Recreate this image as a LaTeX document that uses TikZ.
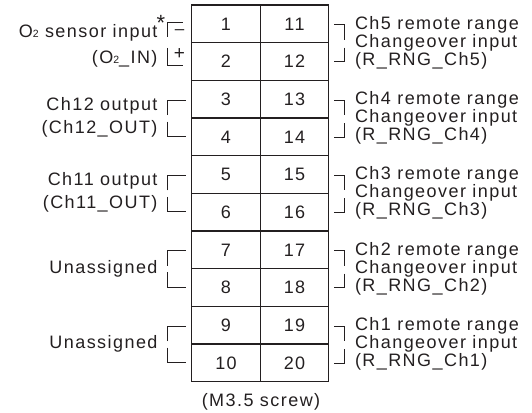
\documentclass[tikz,border=0pt]{standalone}
\usepackage{fontspec}
\setmainfont{Liberation Sans}[LetterSpace=8]
\definecolor{ink}{HTML}{231F20}
\begin{document}
\begin{tikzpicture}[x=1pt,y=-1pt,
  lbl/.style={font=\fontsize{18}{19}\selectfont, text=ink, inner sep=0pt, outer sep=0pt},
  cell/.style={draw=ink, line width=1.1pt, minimum width=68.5pt, minimum height=37.67pt,
    inner sep=0pt, outer sep=0pt, font=\fontsize{18}{19}\selectfont, text=ink},
  brk/.style={draw=ink, line width=1pt}]
\useasboundingbox (0,0) rectangle (532,412);
% terminal cells
\foreach \i in {1,...,10}{
  \pgfmathtruncatemacro{\j}{\i+10}
  \node[cell] (t\i) at (226, {5+37.67*(\i-0.5)}) {\i};
  \node[cell] (t\j) at (294.5, {5+37.67*(\i-0.5)}) {\j};
}
% right brackets
\foreach \k in {0,...,4}{
  \pgfmathsetmacro{\c}{5+37.67*(2*\k+1)}
  \draw[brk] (334,\c-18) -- (344,\c-18) -- (344,\c-3);
  \draw[brk] (344,\c+5) -- (344,\c+19) -- (334,\c+19);
}
% left brackets
\draw[brk] (167,37) -- (167,23) -- (183,23);
\draw[brk] (167,48) -- (167,65) -- (183,65);
\foreach \k in {1,...,4}{
  \pgfmathsetmacro{\c}{5+37.67*(2*\k+1)}
  \draw[brk] (167,\c-3) -- (167,\c-18) -- (186,\c-18);
  \draw[brk] (167,\c+3.5) -- (167,\c+18.5) -- (186,\c+18.5);
}
\node[lbl, font=\fontsize{17}{17}\selectfont] (minus) at (179.5,32) {–};
\node[lbl, font=\fontsize{19}{19}\selectfont] (plus) at (179.5,54.5) {+};
% left labels
\node[lbl, anchor=base east] (o2a) at (157.5,37.5) {O{\fontsize{10.5}{10}\selectfont 2} sensor input};
\node[lbl, anchor=north, font=\fontsize{22}{22}\selectfont] (ast) at (161,15) {*};
\node[lbl, anchor=base east] (o2b) at (157.5,63.5) {(O{\fontsize{10.5}{10}\selectfont 2}\_IN)};
\node[lbl, anchor=base east] (c12a) at (157.5,110) {Ch12 output};
\node[lbl, anchor=base east] (c12b) at (157.5,133) {(Ch12\_OUT)};
\node[lbl, anchor=base east] (c11a) at (157.5,185.3) {Ch11 output};
\node[lbl, anchor=base east] (c11b) at (157.5,208.3) {(Ch11\_OUT)};
\node[lbl, anchor=base east] (un1) at (157.5,273.2) {Unassigned};
\node[lbl, anchor=base east] (un2) at (157.5,348.5) {Unassigned};
% right labels
\foreach \k/\ch in {0/5,1/4,2/3,3/2,4/1}{
  \pgfmathsetmacro{\c}{5+37.67*(2*\k+1)}
  \node[lbl, anchor=base west] (ra\ch) at (355,\c-13.5) {Ch\ch\ remote range};
  \node[lbl, anchor=base west] (rb\ch) at (355,\c+4.5) {Changeover input};
  \node[lbl, anchor=base west] (rc\ch) at (355,\c+22.5) {(R\_RNG\_Ch\ch)};
}
\node[lbl, anchor=base] (screw) at (261,406.5) {(M3.5 screw)};
\end{tikzpicture}
\end{document}
